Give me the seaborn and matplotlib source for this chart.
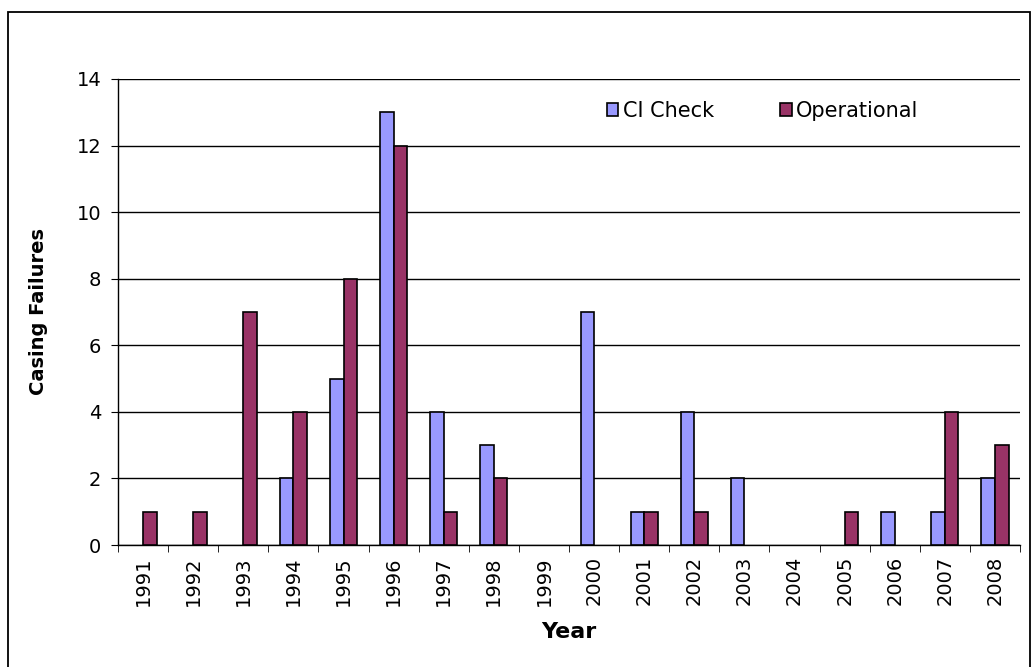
import numpy as np
import pandas as pd
import seaborn as sns
import matplotlib.pyplot as plt
from matplotlib.patches import Rectangle

years = [str(y) for y in range(1991, 2009)]
ci_check = [0, 0, 0, 2, 5, 13, 4, 3, 0, 7, 1, 4, 2, 0, 0, 1, 1, 2]
operational = [1, 1, 7, 4, 8, 12, 1, 2, 0, 0, 1, 1, 0, 0, 1, 0, 4, 3]

df = pd.DataFrame({
    'Year': years * 2,
    'Failures': ci_check + operational,
    'Type': ['CI Check'] * len(years) + ['Operational'] * len(years),
})

sns.set_style('white')
plt.rcParams['font.family'] = ['DejaVu Sans']
for k in ['text.color', 'axes.labelcolor', 'xtick.color', 'ytick.color']:
    plt.rcParams[k] = 'black'

fig = plt.figure(figsize=(10.36, 6.67), dpi=100)
ax = fig.add_axes([0.1139, 0.1829, 0.8707, 0.6987])

sns.barplot(data=df, x='Year', y='Failures', hue='Type',
            palette={'CI Check': '#9999FF', 'Operational': '#993366'},
            saturation=1, width=0.54, edgecolor='black', linewidth=1.2,
            ax=ax, zorder=3)
# no outline on empty bars
for p in ax.patches:
    if p.get_height() == 0:
        p.set_linewidth(0)

ax.set_ylim(0, 14)
ax.set_xlim(-0.5, len(years) - 0.5)
ax.set_yticks(range(0, 15, 2))
ax.yaxis.grid(True, color='black', linewidth=1.0, zorder=0)
ax.set_axisbelow(True)
for s in ['top', 'right']:
    ax.spines[s].set_visible(False)
for s in ['left', 'bottom']:
    ax.spines[s].set_color('black')
    ax.spines[s].set_linewidth(1.0)

ax.tick_params(axis='y', left=True, length=5, direction='out', labelsize=14, pad=7)
ax.tick_params(axis='x', which='major', length=0, labelsize=14, pad=8)
ax.set_xticks(np.arange(-0.5, len(years), 1.0), minor=True)
ax.tick_params(axis='x', which='minor', bottom=True, length=5, direction='out')
plt.setp(ax.get_xticklabels(), rotation=90)

ax.set_ylabel('Casing Failures', fontsize=14, fontweight='bold')
ax.yaxis.set_label_coords(-0.078, 0.5)
ax.set_xlabel('Year', fontsize=16, fontweight='bold')
ax.xaxis.set_label_coords(0.5, -0.165)

leg = ax.legend(loc='center left', bbox_to_anchor=(0.542, 0.931), ncol=2, frameon=False,
                fontsize=15, handlelength=0.55, handleheight=0.55, handletextpad=0.2,
                columnspacing=3.2, borderaxespad=0, borderpad=0)
for h in leg.legend_handles:
    h.set_edgecolor('black')
    h.set_linewidth(1.2)

fig.patches.append(Rectangle((8 / 1036, -0.01), 1022 / 1036, 1 - 12 / 667 + 0.01,
                             transform=fig.transFigure, fill=False,
                             edgecolor='black', linewidth=1.3))

fig.savefig('out.png', dpi=100)
